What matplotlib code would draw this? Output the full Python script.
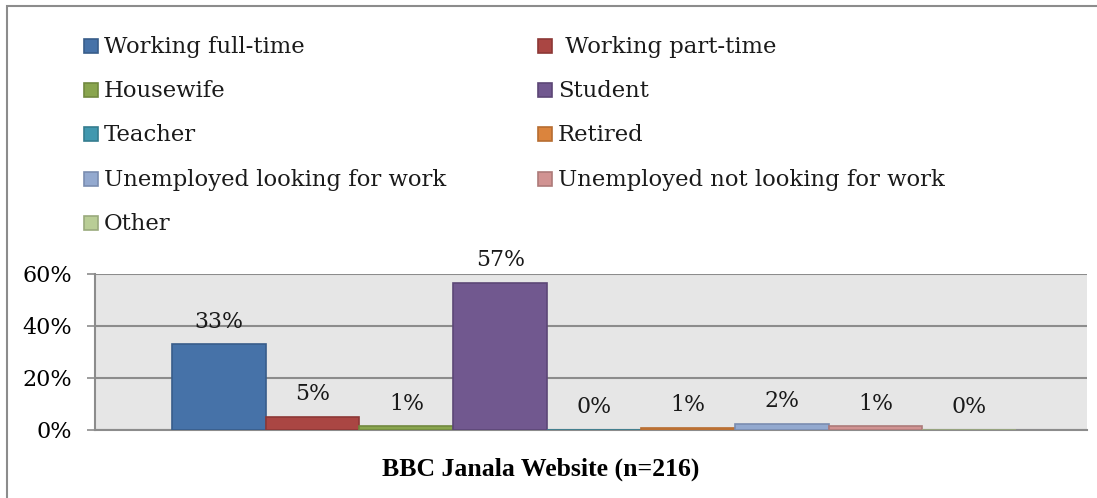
import matplotlib
matplotlib.use("Agg")
import matplotlib.pyplot as plt
from matplotlib.patches import Rectangle

# Occupation of respondents, share in percent
categories = [
    "Working full-time", " Working part-time", "Housewife", "Student",
    "Teacher", "Retired", "Unemployed looking for work",
    "Unemployed not looking for work", "Other",
]
values = [32.9, 5.1, 1.4, 56.6, 0.0, 0.9, 2.3, 1.4, 0.0]
yticks = [0, 20, 40, 60]
ytick_labels = ["0%", "20%", "40%", "60%"]
xlabel = "BBC Janala Website (n=216)"

fills = ["#4672A8", "#AA4643", "#89A54E", "#71588F", "#4198AF",
         "#DB843D", "#93A9CF", "#D19392", "#B9CD96"]
edges = ["#385D8A", "#8C3836", "#71893F", "#5C4776", "#357D8F",
         "#B66D31", "#7A8DB0", "#AD7A79", "#9AAA7D"]

W, H = 1097, 498
fig = plt.figure(figsize=(W / 100, H / 100), dpi=100)
plt.rcParams["font.family"] = ["DejaVu Serif"]


def fx(px):
    return px / W


def fy(py):
    return 1 - py / H


# outer chart frame
fig.patches.append(Rectangle((fx(7), fy(H + 20)), 1.2, fy(6) - fy(H + 20),
                             transform=fig.transFigure, fill=False,
                             edgecolor="#8C8C8C", linewidth=1.5))

ax = fig.add_axes([fx(95), fy(430), fx(1087) - fx(95), fy(274) - fy(430)])
ax.set_facecolor("#E6E6E6")

x = list(range(len(values)))
ax.bar(x, values, width=1.0, color=fills, edgecolor=edges, linewidth=1.2,
       zorder=3)
for xi, v in zip(x, values):
    ax.annotate(f"{v:.0f}%", (xi, v), xytext=(0, 12.0),
                textcoords="offset points", ha="center", va="baseline",
                fontsize=15.8, color="#1a1a1a", zorder=4)

ax.set_xlim(-1.319, 9.255)
ax.set_ylim(0, 60)
ax.set_yticks(yticks)
ax.set_yticklabels(ytick_labels, fontsize=16)
ax.tick_params(axis="y", length=6, width=1.2, color="#8C8C8C", pad=10.5)
ax.set_xticks([])
ax.yaxis.grid(True, color="#8C8C8C", linewidth=1.5, zorder=1)
ax.set_axisbelow(True)
for side in ("top", "right"):
    ax.spines[side].set_visible(False)
for side in ("left", "bottom"):
    ax.spines[side].set_color("#8C8C8C")
    ax.spines[side].set_linewidth(1.5)

fig.text(fx(541), fy(469), xlabel, ha="center", va="center",
         fontsize=18.5, fontweight="bold", family="Liberation Serif")

# two-column legend laid out row by row
col_x = [84, 538]
row_y = [46, 90, 134, 179, 223]
for i, (lab, fc, ec) in enumerate(zip(categories, fills, edges)):
    r, c = divmod(i, 2)
    sx, sy = col_x[c], row_y[r]
    fig.patches.append(Rectangle((fx(sx), fy(sy + 7)), fx(14), fy(0) - fy(14),
                                 transform=fig.transFigure, facecolor=fc,
                                 edgecolor=ec, linewidth=1.2))
    fig.text(fx(sx + 20), fy(sy + 7), lab, ha="left", va="baseline",
             fontsize=16.4, color="#1a1a1a")

fig.savefig("out.png", dpi=100)
